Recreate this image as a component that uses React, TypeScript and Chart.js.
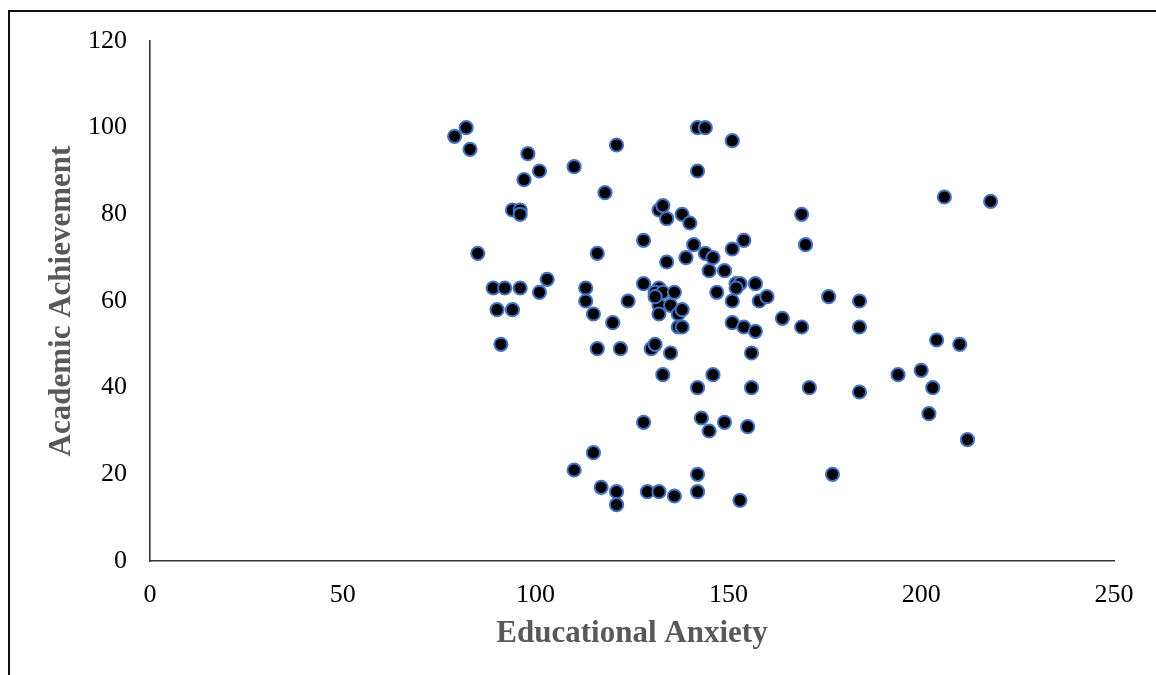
import React, { useEffect, useRef } from "react";
import { Chart, registerables } from "chart.js";

Chart.register(...registerables);

const anxiety: number[] = [
  79, 82, 83, 98, 101, 97, 110, 121, 118, 142, 144, 151, 142, 94, 96, 96, 85, 116, 128,
  132, 133, 134, 138, 140, 141, 144, 146, 151, 154, 169, 170, 134, 139, 145, 149, 128,
  132, 131, 133, 136, 132, 135, 132, 137, 138, 137, 138, 131, 152, 153, 152, 157, 147,
  151, 158, 160, 124, 120, 151, 154, 157, 164, 169, 116, 122, 130, 131, 135, 156, 133,
  146, 142, 156, 171, 89, 92, 96, 90, 94, 103, 101, 113, 113, 115, 91, 176, 128, 143,
  145, 149, 155, 115, 110, 117, 121, 121, 129, 132, 136, 142, 142, 153, 177, 206, 218,
  184, 184, 204, 210, 194, 200, 203, 202, 212, 184,
];

const achievement: number[] = [
  98, 100, 95, 94, 90, 88, 91, 96, 85, 100, 100, 97, 90, 81, 81, 80, 71, 71, 74,
  81, 82, 79, 80, 78, 73, 71, 70, 72, 74, 80, 73, 69, 70, 67, 67, 64,
  63, 62, 62, 62, 59, 59, 57, 57, 58, 54, 54, 61, 64, 64, 63, 64, 62,
  60, 60, 61, 60, 55, 55, 54, 53, 56, 54, 49, 49, 49, 50, 48, 48, 43,
  43, 40, 40, 40, 63, 63, 63, 58, 58, 65, 62, 63, 60, 57, 50, 61, 32, 33,
  30, 32, 31, 25, 21, 17, 16, 13, 16, 16, 15, 20, 16, 14, 20, 84, 83,
  60, 54, 51, 50, 43, 44, 40, 34, 28, 39,
];

const xTicks: number[] = [0, 50, 100, 150, 200, 250];
const yTicks: number[] = [0, 20, 40, 60, 80, 100, 120];

const xTitle = "Educational Anxiety";
const yTitle = "Academic Achievement";

export default function App() {
  const canvasRef = useRef<HTMLCanvasElement | null>(null);

  useEffect(() => {
    const canvas = canvasRef.current;
    if (!canvas) return;
    const points = anxiety.map((x, i) => ({ x, y: achievement[i] }));
    const tickFont = { family: "'Liberation Serif', 'Times New Roman', serif", size: 26 };
    const titleFont = {
      family: "'Liberation Serif', 'Times New Roman', serif",
      size: 31,
      weight: "bold" as const,
    };
    const chart = new Chart(canvas, {
      type: "scatter",
      data: {
        datasets: [
          {
            data: points,
            backgroundColor: "#000000",
            borderColor: "#4472C4",
            borderWidth: 2,
            pointRadius: 6.6,
            pointHoverRadius: 6.6,
          },
        ],
      },
      options: {
        responsive: false,
        animation: false,
        layout: { padding: { left: 0, top: 41, right: 42, bottom: 0 } },
        plugins: {
          legend: { display: false },
          tooltip: { enabled: false },
        },
        scales: {
          x: {
            type: "linear",
            min: xTicks[0],
            max: xTicks[xTicks.length - 1],
            afterBuildTicks: (scale: any) => {
              scale.ticks = xTicks.map((v) => ({ value: v }));
            },
            afterFit: (scale: any) => {
              scale.height = 114;
            },
            grid: { display: false, drawTicks: false },
            border: { display: true, color: "#333333", width: 1.6 },
            ticks: { color: "#000000", font: tickFont, padding: 19, maxRotation: 0 },
            title: {
              display: true,
              text: xTitle,
              color: "#595959",
              font: titleFont,
              padding: { top: 0, bottom: 22 },
            },
          },
          y: {
            type: "linear",
            min: yTicks[0],
            max: yTicks[yTicks.length - 1],
            afterBuildTicks: (scale: any) => {
              scale.ticks = yTicks.map((v) => ({ value: v }));
            },
            afterFit: (scale: any) => {
              scale.width = 150;
            },
            grid: { display: false, drawTicks: false },
            border: { display: true, color: "#333333", width: 1.6 },
            ticks: { color: "#000000", font: tickFont, padding: 23 },
            title: {
              display: true,
              text: yTitle,
              color: "#595959",
              font: titleFont,
              padding: { top: 43, bottom: 0 },
            },
          },
        },
      },
    });
    return () => chart.destroy();
  }, []);

  return (
    <div style={{ position: "fixed", left: 0, top: 0, width: 1156, height: 675, overflow: "hidden", background: "#ffffff" }}>
      <div
        style={{
          position: "absolute",
          left: 8,
          top: 10,
          width: 1300,
          height: 800,
          borderTop: "2px solid #111",
          borderLeft: "2px solid #111",
        }}
      />
      <canvas
        ref={canvasRef}
        width={1156}
        height={675}
        style={{ position: "absolute", left: 0, top: 0, width: 1156, height: 675 }}
      />
    </div>
  );
}
